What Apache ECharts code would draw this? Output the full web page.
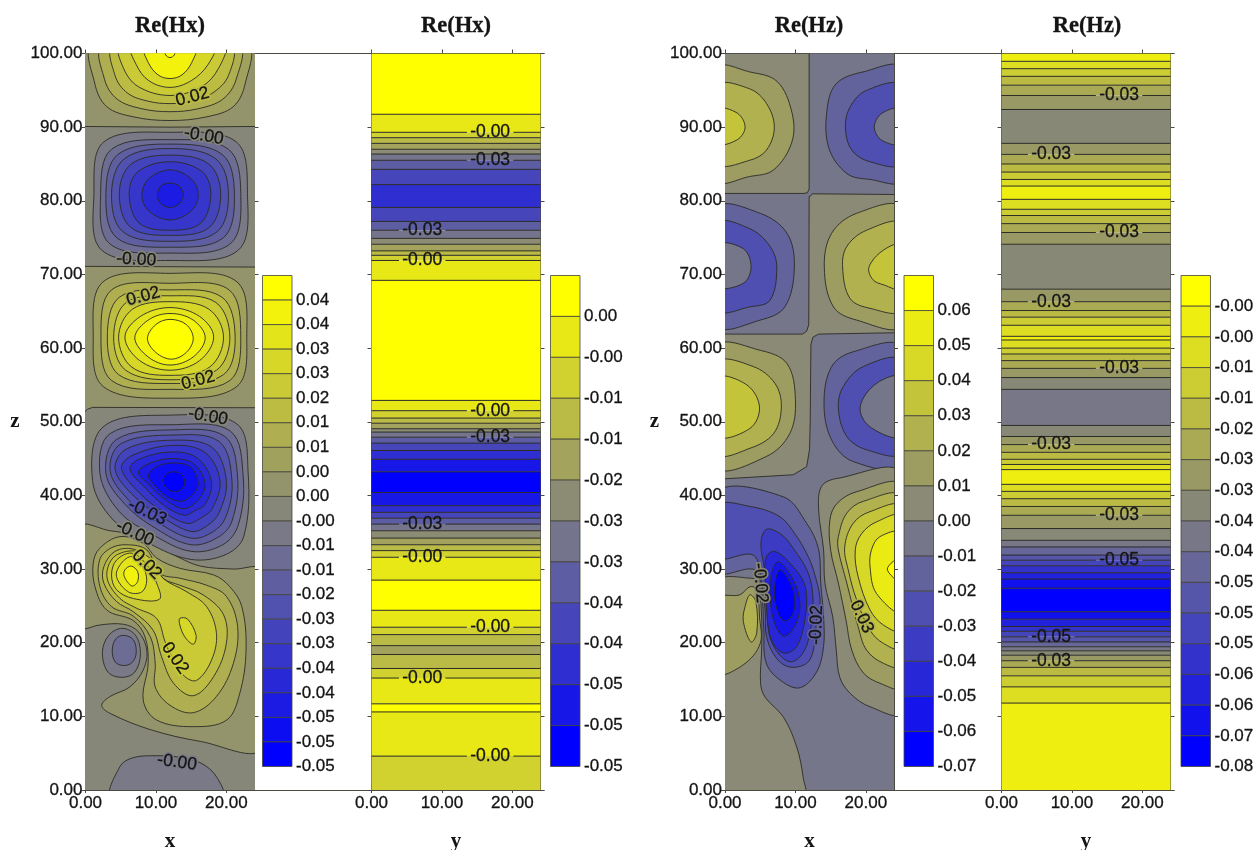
<!DOCTYPE html>
<html><head><meta charset="utf-8">
<script src="https://cdn.jsdelivr.net/npm/echarts@6/dist/echarts.min.js"></script>
<style>html,body{margin:0;background:#fff}#c{width:1257px;height:850px}</style></head>
<body><div id="c"></div>
<script>
// ---------- colour-bar tick labels (top to bottom) ----------
const hxXTicks=['0.04','0.04','0.03','0.03','0.02','0.01','0.01','0.00','0.00','-0.00','-0.01','-0.01','-0.02','-0.03','-0.03','-0.04','-0.04','-0.05','-0.05','-0.05'];
const hxYTicks=['0.00','-0.00','-0.01','-0.01','-0.02','-0.03','-0.03','-0.04','-0.04','-0.05','-0.05','-0.05'];
const hzXTicks=['0.06','0.05','0.04','0.03','0.02','0.01','0.00','-0.01','-0.02','-0.03','-0.04','-0.05','-0.06','-0.07'];
const hzYTicks=['-0.00','-0.00','-0.01','-0.01','-0.02','-0.03','-0.03','-0.04','-0.04','-0.05','-0.05','-0.05','-0.06','-0.06','-0.07','-0.08'];
const xTickValues=[0,10,20];

// ---------- Re(Hx)(y) : band tops in z and level index ----------
const hxBandTops=[100,91.75,89.3,88.57,87.8,87,86.35,85.5,84.27,82.2,79.1,77.2,76,74.9,74.1,73.2,72.6,71.9,69.2,52.9,51.5,50.5,49.8,49.05,48.6,47.9,47.1,46.1,44.9,43.2,40.4,38.6,37.7,36.9,36.1,35.2,34.2,33.3,32.5,31.6,28.5,24.4,22.1,21.1,19.6,18.4,16.5,15.2,11.7,10.6,4.6];
const hxBandLevels=[0,1,2,3,4,5,6,7,8,9,8,7,6,5,4,3,2,1,0,1,2,3,4,5,6,7,8,9,10,11,10,9,8,7,6,5,4,3,2,1,0,1,2,3,4,3,2,1,0,1,2];
const hxBandLabels=[[16.85,89.3,'-0.00'],[16.85,85.5,'-0.03'],[7.2,76,'-0.03'],[7.2,71.9,'-0.00'],[16.85,51.5,'-0.00'],[16.85,47.9,'-0.03'],[7.2,36.1,'-0.03'],[7.2,31.6,'-0.00'],[16.85,22.1,'-0.00'],[7.2,15.2,'-0.00'],[16.85,4.6,'-0.00']];

// ---------- Re(Hz)(y) ----------
const hzBandTops=[100,98.94,97.94,96.9,95.7,94.3,92.4,87.8,86.3,85,83.9,82.9,82,80.2,78.85,78,76.9,75.7,74.1,68,66.3,65.1,64.2,63.1,61.6,61.1,60,59.2,58.3,57.25,56,54.4,49.5,48,46.9,45.85,44.9,44.2,43.5,41.5,40.55,39.55,38.5,37.3,35.5,33.9,33,31.9,31.2,30.45,29.5,28.65,27.4,24.2,23.2,22.2,21.55,20.8,20.1,19.45,18.9,18.3,17.55,16.65,15.5,14,11.8];
const hzBandLevels=[1,2,3,4,5,6,7,6,5,4,3,2,1,2,3,4,5,6,7,6,5,4,3,2,1,2,3,4,5,6,7,8,7,6,5,4,3,2,1,2,3,4,5,6,7,8,9,10,11,12,13,14,15,14,13,12,11,10,9,8,7,6,5,4,3,2,1];
const hzBandLabels=[[16.7,94.3,'-0.03'],[7.05,86.3,'-0.03'],[16.7,75.7,'-0.03'],[7.05,66.3,'-0.03'],[16.7,57.25,'-0.03'],[7.05,46.9,'-0.03'],[16.7,37.3,'-0.03'],[16.7,31.2,'-0.05'],[7.05,20.8,'-0.05'],[7.05,17.55,'-0.03']];

// ---------- Re(Hx)(x,z) contours: [level, x,z pairs, sharp] in paint order ----------
const hxZeroRegions=[
 [9,[-1,-1,25,-1,25,101,-1,101],1],
 [8,[-1,90.1,12,90,25,90.1,25,101,-1,101],1],
 [8,[-1,71.1,25,71,25,51.9,1,51.95,0.3,51.7,-1,50.6],1],
 [8,[-1,35.8,3.5,35.2,7,34.6,10.6,33,13,31.7,16.3,30.4,21,30,25,29.9,25,20,25,5.6,16.3,6.6,9.2,8.2,3.5,10.4,2.3,11.5,3.5,12.7,6.3,14,8.2,16.3,8.7,19,7.5,21.5,5.4,22.5,2,22.4,0,21.9,-1,21.9,-2,28]],
 [10,[3.8,-1,4.9,3.2,6.8,4.4,10.1,4.65,13,4.5,16.3,3.7,18.6,1.8,19.4,-1]]
];
const hxTopLobe=[
 [7,[1.1,101,1.3,96,3,92.8,6.8,91.4,12,90.9,17.2,91.4,21,92.8,22.7,96,22.9,101]],
 [6,[2.5,101,2.7,96.5,4.5,93.8,8,92.5,12,92.1,16,92.5,19.5,93.8,21.4,96.5,21.7,101]],
 [5,[4,101,4.2,97,6,94.6,9,93.5,12,93.2,15,93.5,18,94.6,20.3,97,20.6,101]],
 [4,[5,101,5.4,98,7.5,95.5,12,94.3,16.5,95.5,18.9,98,19.6,101]],
 [3,[6.6,101,7.2,98.5,9,96.3,12,95.4,15,96.3,17.4,98.5,18.2,101]],
 [1,[8.4,101,8.9,98.8,10.3,97.1,12,96.6,13.7,97.1,15.1,98.8,15.6,101]],
 [0,[11.2,101,11.4,99.8,12,99.45,12.6,99.8,12.8,101]]
];
const hxUpperBlue=[
 [10,[12,89.3,21.4,88,23,81,21.7,73.3,12,71.9,2.3,73.3,1.2,81,2.6,88]],
 [11,[12,88.3,20.3,87,22.05,81,20.6,74.2,12,72.9,3.4,74.2,2.15,81,3.7,87]],
 [12,[12,87.7,19.4,86.3,21.15,81,19.6,75,12,73.7,4.4,75,2.9,81,4.6,86.3]],
 [13,[12,87.1,18.5,85.7,20.3,81,18.7,75.8,12,74.5,5.3,75.8,3.7,81,5.5,85.7]],
 [14,[12,86.2,17.5,85,19.2,81,17.6,76.4,12,75.3,6.4,76.4,4.8,81,6.5,85]],
 [15,[12,85.3,16.5,84,17.8,81,16.4,77,12,76,7.6,77,6.2,81,7.5,84]],
 [16,[12,84.2,15,83,16,80.8,15,78.6,12,77.4,9,78.6,8,80.8,9,83]],
 [17,[12,82.4,13.3,82,13.9,80.8,13.3,79.6,12,79.1,10.7,79.6,10.2,80.8,10.7,82]]
];
const hxMidLobe=[
 [7,[12,70.15,21.5,69,22.9,61.5,21.5,54.8,12,53.2,2.5,54.8,1.1,61.5,2.5,69]],
 [6,[12,68.8,20.4,67.9,22.05,61.5,20.5,55.6,12,54.4,3.7,55.6,2.2,61.5,3.7,67.9]],
 [5,[12,67.9,19.4,66.9,21.25,61.5,19.6,56.4,12,55.2,4.7,56.4,3.1,61.5,4.8,66.9]],
 [4,[12,67.1,18.5,66.2,20.5,61.5,18.6,57,12,55.7,5.7,57,4,61.5,5.8,66.2]],
 [3,[12,66.3,17.5,65.3,19.6,61.5,17.6,57.4,12,56.3,6.6,57.4,4.7,61.5,6.7,65.3]],
 [2,[12,65.5,16.2,64.3,18.2,61.5,16.2,58.3,12,57,7.7,58.3,5.6,61.5,7.8,64.3]],
 [1,[12,64.7,15.3,63.8,17,61.4,15.3,58.8,12,57.7,8.9,58.8,7,61.4,8.9,63.8]],
 [0,[12,63.9,14.3,63.2,15.3,61.3,14.3,59.4,12.2,58.5,10,59.4,8.8,61.3,10,63.2]]
];
const hxLowerBlue=[
 [10,[12,50.9,21.5,49.7,23.1,43,22.5,34.5,20,32,15,31.3,9,33.5,3.8,36.8,1,42,2.5,49.3]],
 [11,[12.5,49.6,20.6,48.7,22.4,42.5,21.7,36,19.5,33.3,15,32.4,9.5,34.7,4.8,37.8,2.05,43,3.5,48.4]],
 [12,[12.5,48.9,19.8,48,21.6,42.5,20.8,36.5,18.8,34.3,15,33.3,10,35.5,5.6,38.8,2.9,43,4.4,47.6]],
 [13,[12.5,48.2,19,47.3,20.8,42,19.9,37,18,35,15,34.2,10.5,36.2,6.2,39.3,3.5,43.3,5,47]],
 [14,[12.5,47.5,18,46.5,20,42,19,37.7,17.3,35.9,15,35.1,11,37,7,39.8,4.2,43.5,5.8,46.3]],
 [15,[12.5,46.8,17,45.8,19.1,42,18,38.2,16.5,37,14.5,36.2,11,37.8,7.7,40.3,5.1,43.7,6.8,45.5]],
 [16,[12.5,45.9,16,45,17.9,41.8,17,38.8,15.5,37.9,14,37.3,11.2,38.6,8.5,41,6.3,43.6,7.8,45]],
 [17,[12.7,45,15.5,44.2,17,41.5,16,39.4,14,38.2,11.5,39.3,9,41.5,7.5,43.2,9.5,44.5]],
 [18,[12.7,44.4,15,43.8,16,41.5,15,39.9,13.5,39.2,11.5,39.9,9.7,41.5,8.9,42.8,10.3,44]],
 [19,[12.6,43.2,13.7,42.8,14.1,41.6,13.6,40.8,12.6,40.5,11.5,41,11,42,11.5,42.9]]
];
const hxDoubleLobe=[
 [7,[1.1,30.8,1.35,27.6,3,24.45,6.8,23,8.45,20.8,8.9,17.2,8.2,12.2,10.1,9.5,15.3,8.6,20.05,9.5,21.9,13.1,22.8,19,22.2,24.9,20.5,27.6,18.2,29.2,13.4,30.1,10.1,31.5,8.2,33.5,4.9,34.4,2,32.8]],
 [6,[2,31.2,2.05,27.6,3.7,24.9,6.8,23.6,9.2,20.8,9.9,17.2,9.9,14,12,11.5,15.3,10.5,18.6,12.7,21,17.2,21.6,22.2,20,26.3,17.2,27.8,13.4,28.75,10.6,29.4,8.7,32.6,5.85,33.3,3.5,32.8]],
 [5,[2.6,30.3,2.6,28.1,4.4,25.6,6.8,24.2,9.6,21.7,10.8,18.1,12.5,14.5,15.3,12.8,18.2,15.4,20,19.9,19.6,23.8,16.7,26.5,13.4,27.8,11,28.75,9.2,31.2,6.8,32.7,4.2,32.4]],
 [4,[3.2,30.3,3.2,28.3,4.9,26,7,24.8,10.1,23.3,11.3,20.15,12.5,17.65,14.1,15.4,15.8,14.9,17.9,17.65,18.6,21.25,17.2,24.9,14.4,26.9,11,28.75,9.9,30.8,7.3,32.4,4.4,31.9]],
 [3,[3.7,29.2,4.4,27.2,6.8,26,10.5,25.9,10.1,28.1,8.7,30.55,6.6,32.15,4.4,31.2]],
 [2,[4.4,29,6.1,26.9,8,26.9,8.7,28.5,8,30.55,6.6,31.7,5.1,30.8]],
 [1,[5.5,29,6.6,27.7,7.4,28.3,7.4,29.65,6.5,30.4,5.6,29.9]],
 [3,[13.4,23.3,14.5,23.2,15.7,21,15.3,19.8,14.1,20.8,13.4,22.4]]
];
const hxSmallBlue=[
 [10,[5.2,21.95,7.1,21,7.8,18.5,7,16,5.2,15.3,3.2,16,2.4,18.7,3.3,21]],
 [11,[5.4,21,6.8,20.4,7.2,18.6,6.6,17.3,5.4,16.9,4.2,17.4,3.8,19,4.3,20.5]]
];
// [x, z, text, rotation in degrees, level behind the text]
const hxLabels=[[15.2,94.1,'0.02',15,5],[16.8,88.8,'-0.00',-10,9],[7.2,72,'-0.00',-3,9],[8.2,67,'0.02',15,6],[16,55.6,'0.02',15,5],[17.4,50.7,'-0.00',-10,9],[8.8,37.7,'-0.03',-25,13],[7,34.85,'-0.00',-25,9],[8.7,30.6,'0.02',-45,5],[12.7,17.9,'0.02',-55,4],[13,3.75,'-0.00',-8,10]];

// ---------- Re(Hz)(x,z) ----------
const hzZeroRegions=[
 [7,[-1,-1,25,-1,25,101,-1,101],1],
 [6,[-1,100,11.95,100,11.95,81.6,11.7,81.1,11.2,81,-1,81],1],
 [6,[12.1,80.6,12.4,80.95,25,80.85,25,62.1,13.3,61.9,12.5,61.5,12.2,60.5,12.1,50,12,46.2,11.6,43.9,9.7,42.8,-1,42.2,-1,61.9,11,61.9,11.6,62.3,11.9,63.2,11.95,80.6],1],
 [6,[-1,-1,-1,28.1,3.8,28.75,4.7,28,5.2,23.5,5.2,19,5.05,14.5,5.7,12.6,8.3,9.9,10.2,5.8,11.1,1.7,11.2,-1]]
];
const hzRow1=[
 [5,[-1,98,3.5,97.5,7.4,96.2,9.5,92,9.5,88,6.9,84.2,3.5,83.3,-1,82.8]],
 [4,[-1,95.6,3.5,95.2,5.9,93.2,7,90,5.9,86.9,3.5,85.5,-1,85.1]],
 [3,[-1,92.4,1.75,91.9,2.85,90,1.75,88.3,-1,87.8]],
 [8,[25,98,19.6,97.5,15.9,96,14.55,92.8,14.7,87.3,17.3,83.7,20.6,82.9,25,82.8]],
 [9,[25,95.6,20.1,95,17.8,92.8,17.1,90,18,86.9,20.6,85.3,25,85.1]],
 [7,[25,92.4,22.3,91.9,21.2,90,22.3,88.2,25,87.8]]
];
const hzRow2=[
 [8,[-1,79,5,78.3,8.8,75.6,9.85,71,8.5,65.6,5,63.8,-1,63.1]],
 [9,[-1,76.9,3.55,76.2,6.4,73.8,7.35,71,6.4,66.5,3.55,65.6,-1,65.2]],
 [7,[-1,74,2.6,73.5,3.7,71,2.6,68.8,-1,68.4]],
 [5,[25,79,18.7,78.3,15.15,75.6,14.1,71,15.4,65.6,18.7,63.8,25,63.1]],
 [4,[25,76.8,20.1,76,17.3,73.8,16.7,71,17.75,66.75,20.6,65.4,25,65.2]],
 [3,[25,74,22.5,73.3,20.45,71,21,69.3,22.5,68.6,25,68.1]]
];
const hzRow3=[
 [5,[-1,60.2,5,59.7,8.8,57.9,10,53,9.2,48.4,5.9,45.3,-1,43.9]],
 [4,[-1,58,4,57.5,7.1,55.2,8,52,6.9,48.4,3.55,46.4,-1,45.7]],
 [3,[-1,55.9,3.1,55,4.9,52,3.55,49.1,-1,48.1]],
 [8,[25,60.1,18.2,59.5,15.15,57.5,14.06,52.5,15.15,47.5,18.2,44.6,25,44.2]],
 [9,[25,58.25,19.65,57.5,16.8,54.8,16.1,51.8,17.3,48,20.1,46.2,25,45.85]],
 [7,[25,56,21.5,55.2,19.2,52,20.6,49.3,25,48.1]]
];
const hzRightLobe=[
 [6,[25,42.8,15.9,42.3,13.7,41.2,13.3,38,14,32.6,14.2,28,15.3,23.5,15.8,19,16.3,15.3,17.8,13.1,20.6,11.3,25,10.6]],
 [5,[25,41.2,18.7,40.5,15.9,38.9,14.9,36.7,15,32.6,16.1,28.1,17.2,23,18,19,19.65,15.9,22,14.5,25,14]],
 [4,[25,39.75,19.65,39.2,17.3,37.6,16.1,34.4,16.1,32.6,17.3,28.1,18.9,22.2,20.1,19,22.5,17.2,25,16.85]],
 [3,[25,38.4,20.6,37.8,18.2,36.2,17,33,17.5,29.9,18.7,25.8,20.6,21.7,22.5,19.9,25,19.3]],
 [2,[25,37.1,21.5,36.4,19.4,34.8,18.5,32.6,18.9,29,20.6,24.45,22.5,22.4,25,21.7]],
 [1,[25,34.85,22,34.4,20.8,32.6,20.6,30.3,21.5,26.7,25,24.2]],
 [0,[25,31.5,23.05,30,25,28.3]]
];
const hzLeftLobe=[
 [5,[-1,26,2.1,26.5,3.55,27.6,4.5,27.2,4.9,23.5,5,19.9,2.6,17,-1,15.9]],
 [4,[3.55,26.5,4.4,25.5,4.5,21.3,3.7,20.1,2.6,22.9,2.85,24.9]]
];
const hzCentreBlue=[
 [8,[-1,40.5,8.3,39.8,11.6,36.2,13.26,32.8,13.6,28,14,23.5,14,19.5,13,16,10.7,13.9,8.3,14.6,5.9,17.1,5.5,22,5.2,26.7,4.2,29.9,-1,29.66]],
 [9,[-1,38.6,3.55,38.5,7.8,37.1,10.2,34.4,11.6,32.1,12.55,29.9,13.5,25.8,13,23,12.55,19,11.6,17.2,9.2,16.7,7.3,17.9,5.9,20.8,5.7,24.45,5.2,28.1,4,31.9,-1,31.6]],
 [10,[5.9,35.4,8,34.7,9.7,32.8,11.8,29.5,12.5,25.8,12,21,11,18.5,9.4,17.4,7.7,18.4,6.3,21,5.9,26,5.6,30,5.1,33.5]],
 [11,[7.1,32.4,9.7,30.3,11.4,27.6,11.4,23.5,10.2,19.5,8.3,18.6,6.6,20.4,5.9,24.45,5.7,29,5.9,31.7]],
 [12,[7.6,31,9.7,28.5,10.65,25.3,9.9,22.2,8.3,20.9,6.9,23.05,6.4,26.7,6.6,29.4]],
 [13,[7.8,29.9,9.5,27.6,9.9,24.9,9.2,23.3,8.3,23,7.4,24.45,7,27.15]]
];
const hzLabels=[[5,28.1,'-0.02',-85,6],[13,22.4,'-0.02',88,8],[19.4,23.5,'0.03',-65,4]];

// ---------- helpers ----------
const serif='"Liberation Serif"', sans='"Liberation Sans"';
const LINE='#2b2b26', AXIS='#4a4a40', TXT='#141414';
const heavy={textBorderColor:TXT,textBorderWidth:.3};
function levelColor(i,n){
  const t=i/(n-1);
  if(t<=.5){const f=t*2;return `rgb(${Math.round(255-127*f)},${Math.round(255-127*f)},${Math.round(128*f)})`;}
  const f=(t-.5)*2;return `rgb(${Math.round(128-128*f)},${Math.round(128-128*f)},${Math.round(128+127*f)})`;
}
const grids=[],xAxes=[],yAxes=[],series=[],titles=[];
function addGrid(left,width,top,height){grids.push({left,width,top,height,containLabel:false,outerBoundsMode:'none'});return grids.length-1;}
function labelSeries(g,labels,n,halo,fmtIdx){
  series.push({type:'custom',coordinateSystem:'cartesian2d',xAxisIndex:fmtIdx[0],yAxisIndex:fmtIdx[1],clip:true,z:5,silent:true,
    data:labels.map(l=>[l[0],l[1]]),
    encode:{x:0,y:1},
    renderItem(p,api){
      const l=labels[p.dataIndex],c=api.coord([l[0],l[1]]);
      const base={text:l[2],font:'17.5px '+sans,align:'center',verticalAlign:'middle'};
      const rotation=(l[3]||0)*Math.PI/180;
      const kids=[];
      if(halo)kids.push({type:'text',x:c[0],y:c[1],rotation,style:{...base,fill:levelColor(l[4],n),stroke:levelColor(l[4],n),lineWidth:3.5}});
      kids.push({type:'text',x:c[0],y:c[1],rotation,style:{...base,fill:TXT,stroke:TXT,lineWidth:.3}});
      return {type:'group',children:kids};
    }});
}
function axisPair(grid,leftLabel,xName,zName){
  const xi=xAxes.length, yi=yAxes.length;
  const lineS={lineStyle:{color:AXIS,width:1}};
  xAxes.push({gridIndex:grid,type:'value',position:'bottom',min:0,max:24,interval:10,splitLine:{show:false},
    axisLine:{show:true,onZero:false,...lineS},
    axisTick:{show:true,length:3,customValues:xTickValues,...lineS},
    axisLabel:{customValues:xTickValues,formatter:v=>v.toFixed(2),margin:5,color:TXT,fontFamily:sans,fontSize:17,hideOverlap:false,...heavy},
    name:xName,nameLocation:'middle',nameGap:41,nameTextStyle:{fontFamily:serif,fontWeight:'bold',fontSize:21,color:TXT}});
  xAxes.push({gridIndex:grid,type:'value',position:'top',min:0,max:24,interval:10,splitLine:{show:false},
    axisLine:{show:true,onZero:false,...lineS},
    axisTick:{show:true,length:4,customValues:xTickValues,...lineS},axisLabel:{show:false}});
  yAxes.push({gridIndex:grid,type:'value',position:'left',min:0,max:100,interval:10,splitLine:{show:false},
    axisLine:{show:true,onZero:false,...lineS},axisTick:{show:true,length:4,...lineS},
    axisLabel:{show:leftLabel,formatter:v=>v.toFixed(2),margin:3,color:TXT,fontFamily:sans,fontSize:17,...heavy},
    name:zName,nameLocation:'middle',nameRotate:0,nameGap:66,nameTextStyle:{fontFamily:serif,fontWeight:'bold',fontSize:21,color:TXT}});
  yAxes.push({gridIndex:grid,type:'value',position:'right',min:0,max:100,interval:10,splitLine:{show:false},
    axisLine:{show:true,onZero:false,...lineS},axisTick:{show:true,length:4,...lineS},axisLabel:{show:false}});
  return [xi,yi];
}
function contourPanel(left,contours,labels,n,xName,zName){
  const g=addGrid(left,169,53.5,736.5);
  const ax=axisPair(g,true,xName,zName);
  series.push({type:'custom',coordinateSystem:'cartesian2d',xAxisIndex:ax[0],yAxisIndex:ax[1],clip:true,silent:true,z:2,
    data:contours.map(c=>[c[1][0],c[1][1]]),encode:{x:0,y:1},
    renderItem(p,api){
      const c=contours[p.dataIndex],pts=[];
      for(let i=0;i<c[1].length;i+=2)pts.push(api.coord([c[1][i],c[1][i+1]]));
      return {type:'polygon',shape:{points:pts,smooth:c[2]?0:0.36},style:{fill:levelColor(c[0],n),stroke:LINE,lineWidth:.9}};
    }});
  labelSeries(g,labels,n,true,ax);
}
function bandPanel(left,tops,levels,labels,n,xName){
  const g=addGrid(left,169,53.5,736.5);
  const ax=axisPair(g,false,xName,'');
  series.push({type:'custom',coordinateSystem:'cartesian2d',xAxisIndex:ax[0],yAxisIndex:ax[1],clip:true,silent:true,z:2,
    data:tops.map((t,i)=>[0,t,i+1<tops.length?tops[i+1]:0,levels[i]]),encode:{x:0,y:1},
    renderItem(p,api){
      const a=api.coord([0,api.value(1)]),b=api.coord([24,api.value(2)]);
      return {type:'rect',shape:{x:a[0],y:a[1],width:b[0]-a[0],height:b[1]-a[1]},style:{fill:levelColor(api.value(3),n)}};
    }});
  series.push({type:'custom',coordinateSystem:'cartesian2d',xAxisIndex:ax[0],yAxisIndex:ax[1],clip:true,silent:true,z:3,
    data:tops.slice(1).map(t=>[0,t]),encode:{x:0,y:1},
    renderItem(p,api){
      const z=api.value(1);
      const lab=labels.find(l=>Math.abs(l[1]-z)<0.06);
      const segs=lab?[[0,lab[0]-3.3],[lab[0]+3.3,24]]:[[0,24]];
      return {type:'group',children:segs.map(s=>{
        const a=api.coord([s[0],z]),b=api.coord([s[1],z]);
        return {type:'line',shape:{x1:a[0],y1:a[1],x2:b[0],y2:b[1]},style:{stroke:LINE,lineWidth:1}};
      })};
    }});
  labelSeries(g,labels,n,false,ax);
}
function spanAxes(left,width){
  const g=addGrid(left,width,53.5,736.5);
  for(const pos of ['top','bottom'])xAxes.push({gridIndex:g,type:'value',position:pos,min:0,max:1,axisLine:{show:true,onZero:false,lineStyle:{color:AXIS,width:1}},axisTick:{show:false},axisLabel:{show:false},splitLine:{show:false}});
  yAxes.push({gridIndex:g,type:'value',min:0,max:1,show:false});
}
function colorBar(left,ticks){
  const n=ticks.length, g=addGrid(left,29.5,275.5,491);
  const xi=xAxes.length, yi=yAxes.length;
  xAxes.push({gridIndex:g,type:'value',min:0,max:1,show:false});
  yAxes.push({gridIndex:g,type:'value',position:'right',min:0,max:n,interval:1,splitLine:{show:false},
    axisLine:{show:false},axisTick:{show:false},
    axisLabel:{margin:4,color:TXT,fontFamily:sans,fontSize:17,...heavy,formatter:v=>v<n?ticks[n-1-v]:''}});
  series.push({type:'custom',coordinateSystem:'cartesian2d',xAxisIndex:xi,yAxisIndex:yi,silent:true,
    data:ticks.map((t,i)=>[0,n-i,n-i-1,i]),encode:{x:0,y:1},
    renderItem(p,api){
      const a=api.coord([0,api.value(1)]),b=api.coord([1,api.value(2)]);
      return {type:'rect',shape:{x:a[0],y:a[1],width:b[0]-a[0],height:b[1]-a[1]},style:{fill:levelColor(api.value(3),n),stroke:'#44443a',lineWidth:.8}};
    }});
}
function title(x,text){titles.push({text,left:x,top:15,padding:0,textAlign:'center',textStyle:{fontFamily:serif,fontWeight:'bold',fontSize:22.5,color:TXT,textBorderColor:TXT,textBorderWidth:.3}});}

spanAxes(85.5,458.5); spanAxes(725,449);
contourPanel(85.5,[].concat(hxZeroRegions,hxTopLobe,hxUpperBlue,hxMidLobe,hxLowerBlue,hxDoubleLobe,hxSmallBlue),hxLabels,20,'x','z');
colorBar(262.5,hxXTicks);
bandPanel(371.5,hxBandTops,hxBandLevels,hxBandLabels,12,'y');
colorBar(550.5,hxYTicks);
contourPanel(725,[].concat(hzZeroRegions,hzRow1,hzRow2,hzRow3,hzRightLobe,hzLeftLobe,hzCentreBlue),hzLabels,14,'x','z');
colorBar(904,hzXTicks);
bandPanel(1001.5,hzBandTops,hzBandLevels,hzBandLabels,16,'y');
colorBar(1181,hzYTicks);
title(170,'Re(Hx)');title(456,'Re(Hx)');title(809,'Re(Hz)');title(1087,'Re(Hz)');

const chart=echarts.init(document.getElementById('c'),null,{renderer:'canvas'});
chart.setOption({animation:false,backgroundColor:'#fff',title:titles,grid:grids,xAxis:xAxes,yAxis:yAxes,series});
</script></body></html>
